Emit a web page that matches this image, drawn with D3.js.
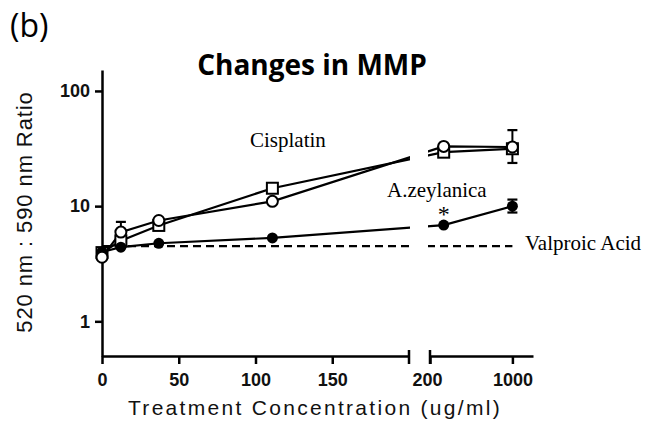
<!DOCTYPE html>
<html>
<head>
<meta charset="utf-8">
<script src="https://cdn.jsdelivr.net/npm/d3@7/dist/d3.min.js"></script>
<style>
  body { margin: 0; background: #fff; }
  svg { display: block; }
</style>
</head>
<body>
<div id="chart"></div>
<script>
// doses (ug/ml), 3-fold dilutions
const doses = [0, 12.3, 37, 111, 333, 1000];

// open squares
const squareValues = [3.95, 5.0, 6.8, 14.3, 29.4, 31.5];
// open circles
const circleValues = [3.6, 5.95, 7.5, 11.0, 33, 32.6];
const circleErrHigh = [null, 7.3, null, null, null, 45.7];
const circleErrLow = [null, null, null, null, null, 23.7];
// filled circles (A.zeylanica)
const zeyValues = [4.0, 4.4, 4.76, 5.3, 6.85, 10.0];
const zeyErrHigh = [null, null, null, null, null, 11.4];
const zeyErrLow = [null, null, null, null, null, 8.8];
// valproic acid (dashed)
const valproicValues = [4.5, 4.5, 4.5, 4.5, 4.5, 4.5];

const yTicks = [1, 10, 100];
const xTicksLeft = [0, 50, 100, 150];
const xTicksRight = [200, 1000];

const width = 649, height = 421;

const svg = d3.select("#chart").append("svg")
    .attr("width", width)
    .attr("height", height);

// broken x axis: linear 0-200 then linear 200-1200
const xLeft = d3.scaleLinear().domain([0, 200]).range([102, 409]);
const xRight = d3.scaleLinear().domain([200, 1200]).range([430, 533]);
const x = v => v <= 200 ? xLeft(v) : xRight(v);

const y = d3.scaleLog().domain([0.5, 152]).range([356, 70]);

// clip out the axis break
const clip = svg.append("defs").append("clipPath").attr("id", "brk");
clip.append("rect").attr("x", 0).attr("y", 0).attr("width", 410).attr("height", height);
clip.append("rect").attr("x", 428).attr("y", 0).attr("width", width - 428).attr("height", height);

// axes
const yAxis = svg.append("g")
    .attr("transform", `translate(${xLeft(0)},0)`)
    .call(d3.axisLeft(y).tickValues(yTicks).tickFormat(d3.format("d")).tickSize(7).tickSizeOuter(0).tickPadding(5));

const xAxisL = svg.append("g")
    .attr("transform", `translate(0,${y(0.5)})`)
    .call(d3.axisBottom(xLeft).tickValues(xTicksLeft).tickFormat(d3.format("d")).tickSize(8).tickSizeOuter(0).tickPadding(9));

const xAxisR = svg.append("g")
    .attr("transform", `translate(0,${y(0.5)})`)
    .call(d3.axisBottom(xRight).tickValues(xTicksRight).tickFormat(d3.format("d")).tickSize(8).tickSizeOuter(0).tickPadding(9));

[yAxis, xAxisL, xAxisR].forEach(g => {
    g.selectAll("path, line").attr("stroke", "#000").attr("stroke-width", 2.5);
    g.selectAll("text")
        .attr("font-family", "Liberation Sans, Arial, sans-serif")
        .attr("font-size", 18)
        .attr("font-weight", "bold")
        .attr("fill", "#111");
});
xAxisR.selectAll(".tick text").filter(d => d === 200).attr("dx", -3);

// break marks
[xLeft(200), xRight(200)].forEach(bx => {
    svg.append("line")
        .attr("x1", bx).attr("x2", bx)
        .attr("y1", y(0.5) - 6).attr("y2", y(0.5) + 8)
        .attr("stroke", "#000").attr("stroke-width", 2.5);
});

// lines
const line = d3.line().x(d => x(d[0])).y(d => y(d[1]));
const plot = svg.append("g").attr("clip-path", "url(#brk)");

plot.append("path")
    .attr("d", line(doses.map((d, i) => [d, valproicValues[i]])))
    .attr("fill", "none").attr("stroke", "#000").attr("stroke-width", 2.2)
    .attr("stroke-dasharray", "8,5");

[zeyValues, squareValues, circleValues].forEach(vals => {
    plot.append("path")
        .attr("d", line(doses.map((d, i) => [d, vals[i]])))
        .attr("fill", "none").attr("stroke", "#000").attr("stroke-width", 2.2);
});

// error bars
function errBars(vals, hi, lo) {
    doses.forEach((d, i) => {
        const cx = x(d);
        [hi[i], lo[i]].forEach(v => {
            if (v == null) return;
            svg.append("line")
                .attr("x1", cx).attr("x2", cx)
                .attr("y1", y(v)).attr("y2", y(vals[i]))
                .attr("stroke", "#000").attr("stroke-width", 2);
            svg.append("line")
                .attr("x1", cx - 5).attr("x2", cx + 5)
                .attr("y1", y(v)).attr("y2", y(v))
                .attr("stroke", "#000").attr("stroke-width", 2.2);
        });
    });
}
errBars(circleValues, circleErrHigh, circleErrLow);
errBars(zeyValues, zeyErrHigh, zeyErrLow);

// markers
svg.append("g").selectAll("rect")
    .data(doses.map((d, i) => [d, squareValues[i]]))
    .join("rect")
    .attr("x", d => x(d[0]) - 5.5).attr("y", d => y(d[1]) - 5.5)
    .attr("width", 11).attr("height", 11)
    .attr("fill", "#fff").attr("stroke", "#000").attr("stroke-width", 2);

svg.append("g").selectAll("circle")
    .data(doses.map((d, i) => [d, zeyValues[i]]))
    .join("circle")
    .attr("cx", d => x(d[0])).attr("cy", d => y(d[1])).attr("r", 5.5)
    .attr("fill", "#000");

svg.append("g").selectAll("circle")
    .data(doses.map((d, i) => [d, circleValues[i]]))
    .join("circle")
    .attr("cx", d => x(d[0])).attr("cy", d => y(d[1])).attr("r", 5.5)
    .attr("fill", "#fff").attr("stroke", "#000").attr("stroke-width", 2);

// labels
const serif = "Liberation Serif, Times New Roman, serif";
svg.append("text").attr("x", 250).attr("y", 147).text("Cisplatin")
    .attr("font-family", serif).attr("font-size", 21);
svg.append("text").attr("x", 387).attr("y", 197).text("A.zeylanica")
    .attr("font-family", serif).attr("font-size", 21);
svg.append("text").attr("x", 525).attr("y", 250).text("Valproic Acid")
    .attr("font-family", serif).attr("font-size", 21);
svg.append("text").attr("x", x(333)).attr("y", 222).attr("text-anchor", "middle").text("*")
    .attr("font-family", serif).attr("font-size", 24);

// titles
svg.append("text").attr("x", 10).attr("y", 37).text("(b)")
    .attr("font-family", "Open Sans, sans-serif").attr("font-size", 32);
svg.append("text").attr("x", 312).attr("y", 75).attr("text-anchor", "middle").text("Changes in MMP")
    .attr("font-family", "Open Sans, sans-serif").attr("font-weight", "bold").attr("font-size", 28);

svg.append("text")
    .attr("transform", "translate(32,212) rotate(-90)")
    .attr("text-anchor", "middle")
    .attr("font-family", "Liberation Sans, Arial, sans-serif")
    .attr("font-size", 22).attr("letter-spacing", 0.9).attr("fill", "#111")
    .text("520 nm : 590 nm Ratio");

svg.append("text")
    .attr("x", 315).attr("y", 415)
    .attr("text-anchor", "middle")
    .attr("font-family", "Liberation Sans, Arial, sans-serif")
    .attr("font-size", 21).attr("letter-spacing", 2.3).attr("fill", "#111")
    .text("Treatment Concentration (ug/ml)");
</script>
</body>
</html>
